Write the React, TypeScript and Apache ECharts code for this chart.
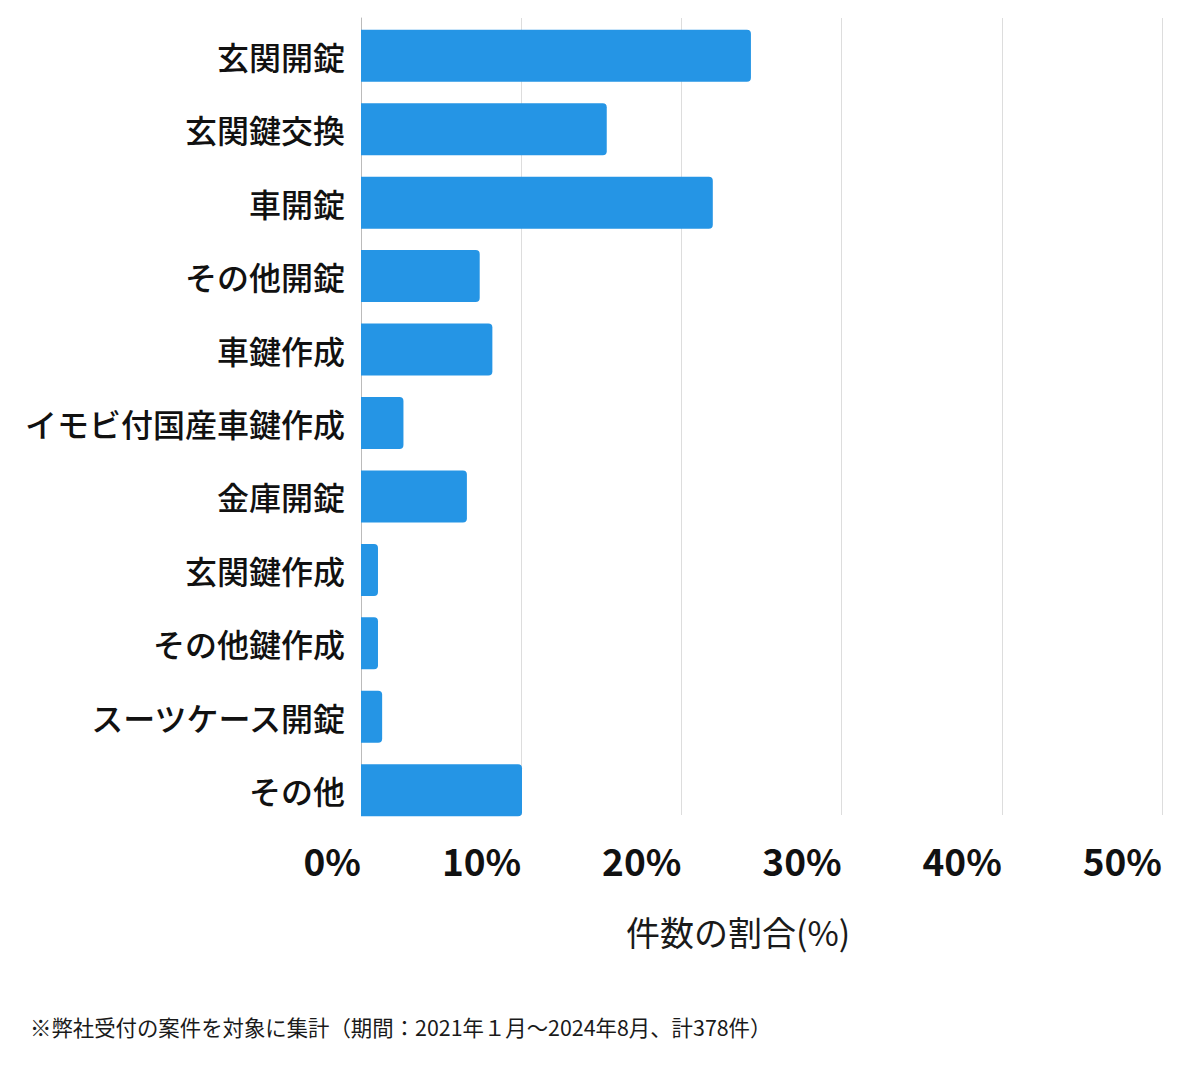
import React, { useEffect, useRef } from "react";
import * as echarts from "echarts";

const categories = [
  "玄関開錠",
  "玄関鍵交換",
  "車開錠",
  "その他開錠",
  "車鍵作成",
  "イモビ付国産車鍵作成",
  "金庫開錠",
  "玄関鍵作成",
  "その他鍵作成",
  "スーツケース開錠",
  "その他",
];
const shares = [24.34, 15.34, 21.96, 7.41, 8.2, 2.65, 6.61, 1.06, 1.06, 1.32, 10.05];
const xTicks = [0, 10, 20, 30, 40, 50];
const axisTitle = "件数の割合(%)";
const footnote = "※弊社受付の案件を対象に集計（期間：2021年１月〜2024年8月、計378件）";

const FONT = '"Noto Sans CJK JP", "Noto Sans", sans-serif';

export default function App() {
  const ref = useRef<HTMLDivElement>(null);
  useEffect(() => {
    document.body.style.margin = "0";
    const chart = echarts.init(ref.current!, null, { renderer: "svg" });
    const xMin = xTicks[0];
    const xMax = xTicks[xTicks.length - 1];
    chart.setOption({
      animation: false,
      backgroundColor: "#ffffff",
      textStyle: { fontFamily: FONT },
      grid: [
        { left: 361, right: 38, top: 18, bottom: 254, containLabel: false },
        { left: 361, right: 38, top: 19, height: 808, containLabel: false },
      ],
      xAxis: [
        {
          gridIndex: 0,
          type: "value",
          min: xMin,
          max: xMax,
          interval: 10,
          axisLine: { show: false },
          axisTick: { show: false },
          axisLabel: { show: false },
          splitLine: { show: true, lineStyle: { color: "#dddddd", width: 1 } },
        },
        {
          gridIndex: 1,
          type: "value",
          min: xMin,
          max: xMax,
          interval: 10,
          axisLine: { show: false },
          axisTick: { show: false },
          splitLine: { show: false },
          axisLabel: {
            formatter: (v: number) => `${v}%`,
            align: "right",
            fontSize: 37,
            fontWeight: "bold",
            color: "#111111",
            margin: 14,
            fontFamily: FONT,
          },
        },
      ],
      yAxis: [
        {
          gridIndex: 0,
          type: "category",
          data: categories,
          inverse: true,
          axisLine: { show: true, lineStyle: { color: "#bbbbbb" } },
          axisTick: { show: false },
          axisLabel: { show: false },
        },
        {
          gridIndex: 1,
          type: "category",
          data: categories,
          inverse: true,
          axisLine: { show: false },
          axisTick: { show: false },
          axisLabel: {
            fontSize: 32,
            fontWeight: 500,
            color: "#111111",
            margin: 16,
            fontFamily: FONT,
          },
        },
      ],
      series: [
        {
          type: "bar",
          xAxisIndex: 1,
          yAxisIndex: 1,
          data: shares,
          barWidth: 52,
          itemStyle: { color: "#2595e5", borderRadius: [0, 4, 4, 0] },
        },
      ],
      graphic: [
        {
          type: "text",
          left: 626,
          top: 914,
          style: { text: axisTitle, fontSize: 34, fill: "#1a1a1a", fontFamily: FONT },
        },
        {
          type: "text",
          left: 30,
          top: 1016,
          style: { text: footnote, fontSize: 21.4, fill: "#1a1a1a", fontFamily: FONT },
        },
      ],
    });
    return () => chart.dispose();
  }, []);
  return <div ref={ref} style={{ width: 1200, height: 1069 }} />;
}
